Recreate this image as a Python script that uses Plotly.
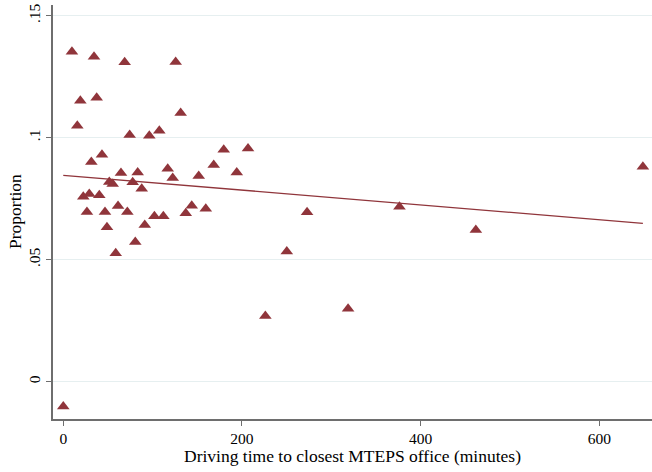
import plotly.graph_objects as go

# Driving time (minutes) and proportion
drive_time = [0, 9.7, 34.4, 68.7, 125.8, 19.1, 37.4, 131.4, 15.7, 74.3, 96.3, 107.5,
              43.3, 31.4, 179.6, 168.4, 194.2, 64.6, 83.3, 116.9, 122.5, 151.6,
              51.5, 55.3, 77.7, 87.8, 22.4, 29.1, 40.3, 26.5, 46.7, 61.3, 71.7,
              91.2, 102.0, 112.0, 137.1, 143.8, 159.5, 48.9, 80.6, 58.7,
              206.8, 272.9, 376.3, 461.8, 250.2, 226.2, 318.8, 648.8]
proportion = [-0.0102, 0.1352, 0.1332, 0.1309, 0.1310, 0.1152, 0.1164, 0.1101, 0.1049,
              0.1011, 0.1008, 0.1029, 0.0930, 0.0900, 0.0951, 0.0888, 0.0857, 0.0855,
              0.0857, 0.0873, 0.0835, 0.0843, 0.0818, 0.0810, 0.0817, 0.0791, 0.0758,
              0.0769, 0.0764, 0.0695, 0.0695, 0.0720, 0.0695, 0.0642, 0.0678, 0.0678,
              0.0690, 0.0721, 0.0709, 0.0633, 0.0573, 0.0526,
              0.0956, 0.0694, 0.0717, 0.0622, 0.0534, 0.0269, 0.0299, 0.0881]

# Linear fit line endpoints
fit_x = [0, 648.8]
fit_y = [0.0846, 0.0649]

x_tickvals = [0, 200, 400, 600]
x_ticktext = ["0", "200", "400", "600"]
y_tickvals = [0, 0.05, 0.1, 0.15]
y_ticktext = ["0", ".05", ".1", ".15"]

x_title = "Driving time to closest MTEPS office (minutes)"
y_title = "Proportion"

MAROON = "#90353b"
FONT = "Liberation Serif"

fig = go.Figure()
fig.add_trace(go.Scatter(
    x=drive_time, y=proportion, mode="markers",
    marker=dict(symbol="triangle-up", size=11, color=MAROON,
                line=dict(width=0)),
    cliponaxis=False, showlegend=False, hoverinfo="skip"))
fig.add_trace(go.Scatter(
    x=fit_x, y=fit_y, mode="lines",
    line=dict(color=MAROON, width=1.3),
    showlegend=False, hoverinfo="skip"))

fig.update_layout(
    width=652, height=472,
    margin=dict(l=53, r=0, t=5, b=53, autoexpand=False),
    paper_bgcolor="white", plot_bgcolor="white",
    font=dict(family=FONT, size=15, color="black"),
    xaxis=dict(range=[-11.5, 659], tickvals=x_tickvals, ticktext=x_ticktext,
               automargin=False,
               showgrid=False, zeroline=False, showline=True,
               linecolor="#6e6e6e", linewidth=1.5, ticks="outside",
               ticklen=5, tickcolor="#6e6e6e", tickwidth=1.2,
               tickfont=dict(family=FONT, size=15.5)),
    yaxis=dict(range=[-0.0153, 0.1544], tickvals=y_tickvals, ticktext=y_ticktext,
               automargin=False,
               showgrid=True, gridcolor="#e6eff0", gridwidth=1.2,
               zeroline=False, showline=True,
               linecolor="#6e6e6e", linewidth=1.5, ticks="outside",
               ticklen=5, tickcolor="#6e6e6e", tickwidth=1.2,
               tickangle=-90, tickfont=dict(family=FONT, size=15.5)),
    annotations=[
        dict(text=x_title, xref="paper", yref="paper", x=0.5, y=0,
             yshift=-37, showarrow=False, xanchor="center", yanchor="middle",
             font=dict(family=FONT, size=17.5)),
        dict(text=y_title, xref="paper", yref="paper", x=0, y=0.5,
             xshift=-38, showarrow=False, xanchor="center", yanchor="middle",
             textangle=-90, font=dict(family=FONT, size=17.5)),
    ],
)

fig.write_html("out.html",
               config={"displayModeBar": False},
               post_script="document.body.style.margin='0';document.body.style.overflow='hidden';")
